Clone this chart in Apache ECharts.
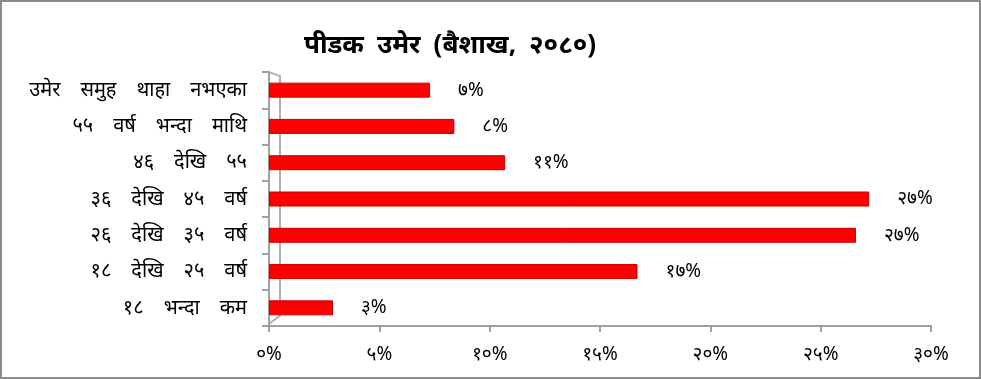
<!DOCTYPE html>
<html>
<head>
<meta charset="utf-8">
<script src="https://cdn.jsdelivr.net/npm/echarts@6/dist/echarts.min.js"></script>
<style>
html,body{margin:0;padding:0;background:#fff;}
#wrap{width:981px;height:379px;box-sizing:border-box;border:2px solid #8c8c8c;position:relative;}
#chart{position:absolute;left:-2px;top:-2px;width:981px;height:379px;}
</style>
</head>
<body>
<div id="wrap"><div id="chart"></div></div>
<script>
const titleText = 'पीडक उमेर (बैशाख, २०८०)';
const categories = ['उमेर समुह थाहा नभएका','५५ वर्ष भन्दा माथि','४६ देखि ५५','३६ देखि ४५ वर्ष','२६ देखि ३५ वर्ष','१८ देखि २५ वर्ष','१८ भन्दा कम'];
const values = [7.3, 8.4, 10.7, 27.2, 26.6, 16.7, 2.9];
const xTicks = [0, 5, 10, 15, 20, 25, 30];

const devDigits = '०१२३४५६७८९';
function toDev(n){ return String(n).replace(/[0-9]/g, d => devDigits[+d]); }
function wide(s){ return s.replace(/ /g, '\u2003'); }

const font = "'Noto Sans', 'DejaVu Sans', sans-serif";
const chart = echarts.init(document.getElementById('chart'));
chart.setOption({
  animation: false,
  title: {
    text: wide(titleText).replace(/\u2003/g, '\u2002'), left: 445, top: 28, textAlign: 'center',
    textStyle: {fontFamily: font, fontSize: 26, fontWeight: 'bold', color: '#000'}
  },
  grid: {left: 269, right: 50, top: 72, bottom: 53, containLabel: false},
  xAxis: {
    type: 'value', min: xTicks[0], max: xTicks[xTicks.length-1], interval: 5,
    axisLine: {show: true, lineStyle: {color: '#a0a0a0', width: 2}},
    axisTick: {show: true, length: 6, lineStyle: {color: '#a0a0a0', width: 2}},
    splitLine: {show: false},
    axisLabel: {margin: 19, fontFamily: font, fontSize: 19, color: '#000', formatter: v => toDev(v) + '%'}
  },
  yAxis: {
    type: 'category', data: categories, inverse: true,
    axisLine: {show: true, lineStyle: {color: '#a0a0a0', width: 2}},
    axisTick: {show: true, length: 7, lineStyle: {color: '#a0a0a0', width: 2}},
    axisLabel: {margin: 22, fontFamily: font, fontSize: 20, color: '#000', formatter: v => wide(v)}
  },
  series: [{
    type: 'bar', data: values, barWidth: 15,
    itemStyle: {color: '#ff0000', borderColor: '#c80000', borderWidth: 1},
    label: {
      show: true, position: 'right', distance: 28,
      fontFamily: font, fontSize: 19, color: '#000',
      formatter: p => toDev(Math.round(p.value)) + '%'
    }
  }]
});
// 3D back-wall edge beside the category axis
const x0 = chart.convertToPixel({xAxisIndex: 0}, 0);
const yTop = chart.convertToPixel({yAxisIndex: 0}, 0) - 18;
const yBot = chart.convertToPixel({yAxisIndex: 0}, categories.length - 1) + 18;
chart.setOption({
  graphic: [{
    type: 'polyline', silent: true,
    shape: {points: [[x0, yTop], [x0 + 11, yTop + 4], [x0 + 11, yBot - 10], [x0, yBot - 2]]},
    style: {fill: null, stroke: '#b0b0b0', lineWidth: 2}
  }]
});
</script>
</body>
</html>
